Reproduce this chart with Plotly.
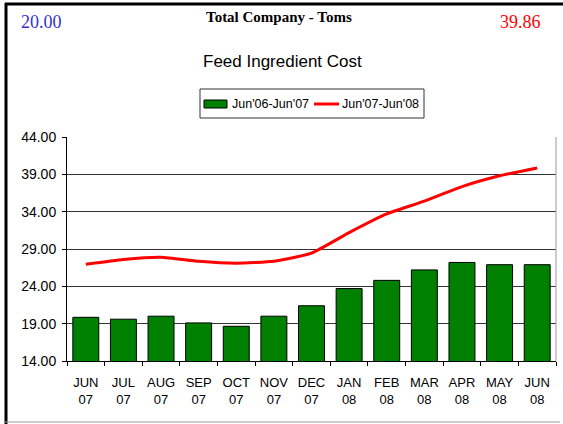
import plotly.graph_objects as go

W, H = 563, 424

months = ["JUN<br>07", "JUL<br>07", "AUG<br>07", "SEP<br>07", "OCT<br>07", "NOV<br>07", "DEC<br>07",
          "JAN<br>08", "FEB<br>08", "MAR<br>08", "APR<br>08", "MAY<br>08", "JUN<br>08"]
prev_year = [19.85, 19.6, 20.0, 19.1, 18.65, 20.0, 21.4, 23.7, 24.8, 26.2, 27.2, 26.9, 26.9]
curr_year = [26.95, 27.6, 27.9, 27.35, 27.1, 27.35, 28.45, 31.2, 33.7, 35.4, 37.35, 38.8, 39.86]
yticks = [14, 19, 24, 29, 34, 39, 44]
series_names = ["Jun'06-Jun'07", "Jun'07-Jun'08"]
left_value = "20.00"
right_value = "39.86"
company = "Total Company - Toms"
chart_title = "Feed Ingredient Cost"

BAR_GREEN = "#008000"
LINE_RED = "#ff0000"


def px_x(p):
    return p / W


def px_y(p):
    return 1 - p / H


fig = go.Figure()
fig.add_trace(go.Bar(
    x=months, y=prev_year, name=series_names[0],
    marker=dict(color=BAR_GREEN, line=dict(color="black", width=1)),
))
fig.add_trace(go.Scatter(
    x=months, y=curr_year, name=series_names[1], mode="lines",
    line=dict(color=LINE_RED, width=3, shape="spline", smoothing=0.5),
))

shapes = [
    # right border of plot area
    dict(type="line", xref="paper", yref="paper", x0=px_x(556), x1=px_x(556),
         y0=px_y(361), y1=px_y(137), line=dict(color="#999999", width=1)),
    # outer frame
    dict(type="line", xref="paper", yref="paper", x0=px_x(6), x1=px_x(6),
         y0=px_y(3), y1=0, line=dict(color="black", width=3)),
    dict(type="line", xref="paper", yref="paper", x0=px_x(5), x1=1,
         y0=px_y(4), y1=px_y(4), line=dict(color="black", width=3)),
    dict(type="line", xref="paper", yref="paper", x0=px_x(5), x1=px_x(560),
         y0=px_y(422), y1=px_y(422), line=dict(color="#999999", width=1)),
    # legend box
    dict(type="rect", xref="paper", yref="paper", x0=px_x(200), x1=px_x(424),
         y0=px_y(118), y1=px_y(89), line=dict(color="#333333", width=1), fillcolor="white"),
    # legend swatches
    dict(type="rect", xref="paper", yref="paper", x0=px_x(204), x1=px_x(227),
         y0=px_y(108), y1=px_y(100), line=dict(color="black", width=1), fillcolor=BAR_GREEN),
    dict(type="line", xref="paper", yref="paper", x0=px_x(314), x1=px_x(339),
         y0=px_y(104), y1=px_y(104), line=dict(color=LINE_RED, width=3)),
]

annotations = [
    dict(text="<b>" + company + "</b>", xref="paper", yref="paper",
         x=px_x(279), y=px_y(17), showarrow=False, xanchor="center", yanchor="middle",
         font=dict(family="Liberation Serif, Times New Roman", size=15, color="black")),
    dict(text=left_value, xref="paper", yref="paper",
         x=px_x(19), y=px_y(22), showarrow=False, xanchor="left", yanchor="middle",
         font=dict(family="Liberation Serif, Times New Roman", size=18, color="#3333cc")),
    dict(text=right_value, xref="paper", yref="paper",
         x=px_x(543), y=px_y(22), showarrow=False, xanchor="right", yanchor="middle",
         font=dict(family="Liberation Serif, Times New Roman", size=18, color=LINE_RED)),
    dict(text=chart_title, xref="paper", yref="paper",
         x=px_x(283), y=px_y(61), showarrow=False, xanchor="center", yanchor="middle",
         font=dict(family="Liberation Sans, Arial", size=17, color="black")),
    dict(text=series_names[0], xref="paper", yref="paper",
         x=px_x(230), y=px_y(104), showarrow=False, xanchor="left", yanchor="middle",
         font=dict(family="Liberation Sans, Arial", size=12.5, color="black")),
    dict(text=series_names[1], xref="paper", yref="paper",
         x=px_x(340), y=px_y(104), showarrow=False, xanchor="left", yanchor="middle",
         font=dict(family="Liberation Sans, Arial", size=12.5, color="black")),
]

fig.update_layout(
    width=W, height=H,
    margin=dict(l=0, r=0, t=0, b=0, pad=0, autoexpand=False),
    paper_bgcolor="white", plot_bgcolor="white",
    bargap=0.31,
    font=dict(family="Liberation Sans, Arial", size=12, color="black"),
    showlegend=False,
    xaxis=dict(
        domain=[px_x(67), px_x(556)],
        type="category", range=[-0.5, 12.5],
        showline=True, linecolor="black", linewidth=1,
        ticks="outside", tickson="boundaries", ticklen=4, tickcolor="black",
        showgrid=False, tickfont=dict(size=13), automargin=False,
        tickangle=0, ticklabelstandoff=9,
    ),
    yaxis=dict(
        domain=[px_y(361), px_y(137)],
        range=[14, 44], tickvals=yticks, tickformat=".2f",
        showline=True, linecolor="black", linewidth=1,
        ticks="outside", ticklen=4, tickcolor="black",
        showgrid=True, gridcolor="#333333", gridwidth=1,
        tickfont=dict(size=14), zeroline=False, automargin=False,
        ticklabelstandoff=3,
    ),
    shapes=shapes,
    annotations=annotations,
)

fig.write_html(
    "out.html",
    config={"displayModeBar": False},
    post_script="document.body.style.margin='0';document.body.style.overflow='hidden';",
)
